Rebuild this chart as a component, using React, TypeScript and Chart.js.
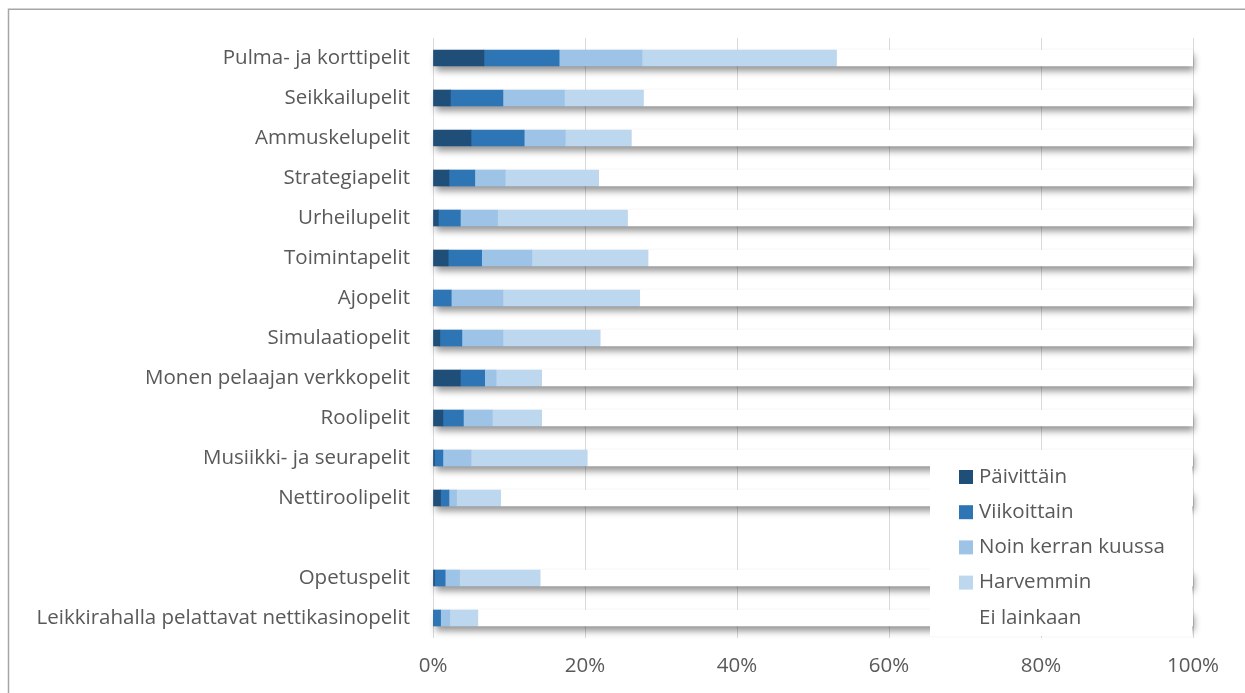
import React, { useEffect, useRef } from "react";
import { Chart, registerables } from "chart.js";

Chart.register(...registerables);

const categories = [
  "Pulma- ja korttipelit",
  "Seikkailupelit",
  "Ammuskelupelit",
  "Strategiapelit",
  "Urheilupelit",
  "Toimintapelit",
  "Ajopelit",
  "Simulaatiopelit",
  "Monen pelaajan verkkopelit",
  "Roolipelit",
  "Musiikki- ja seurapelit",
  "Nettiroolipelit",
  "",
  "Opetuspelit",
  "Leikkirahalla pelattavat nettikasinopelit",
];

const paivittain = [6.7, 2.3, 5.0, 2.1, 0.7, 2.0, 0.0, 0.9, 3.6, 1.3, 0.2, 1.0, null, 0.2, 0.0];
const viikoittain = [9.9, 6.9, 7.0, 3.4, 2.9, 4.4, 2.4, 2.9, 3.2, 2.7, 1.1, 1.1, null, 1.4, 1.0];
const kerranKuussa = [10.9, 8.1, 5.4, 4.0, 4.9, 6.6, 6.8, 5.4, 1.5, 3.8, 3.7, 1.0, null, 1.9, 1.2];
const harvemmin = [25.6, 10.4, 8.7, 12.3, 17.1, 15.3, 18.0, 12.8, 6.0, 6.5, 15.3, 5.8, null, 10.6, 3.7];
const eiLainkaan = [46.9, 72.3, 73.9, 78.2, 74.4, 71.7, 72.8, 78.0, 85.7, 85.7, 79.7, 91.1, null, 85.9, 94.1];

const seriesLabels = ["Päivittäin", "Viikoittain", "Noin kerran kuussa", "Harvemmin", "Ei lainkaan"];
const seriesValues = [paivittain, viikoittain, kerranKuussa, harvemmin, eiLainkaan];
const seriesColors = ["#1F4E79", "#2E75B6", "#9DC3E6", "#BDD7EE", "#FFFFFF"];

const xTickValues = [0, 20, 40, 60, 80, 100];

const FONT_FAMILY = "'Open Sans', Lato, sans-serif";
const FONT_SIZE = 20.5;
const TEXT_COLOR = "#595959";

const shadowPlugin = {
  id: "barShadow",
  beforeDatasetsDraw(chart: any) {
    const ctx = chart.ctx;
    const n = chart.data.datasets.length;
    const lastMeta = chart.getDatasetMeta(n - 1);
    const x0 = chart.scales.x.getPixelForValue(0);
    ctx.save();
    ctx.shadowColor = "rgba(0,0,0,0.42)";
    ctx.shadowBlur = 7;
    ctx.shadowOffsetX = 1;
    ctx.shadowOffsetY = 5;
    ctx.fillStyle = "#FFFFFF";
    lastMeta.data.forEach((el: any, i: number) => {
      if (seriesValues[n - 1][i] == null) return;
      const p = el.getProps(["x", "y", "height"], true);
      ctx.fillRect(x0 + 2, p.y - p.height / 2, p.x - x0 - 2, p.height);
    });
    ctx.restore();
  },
};

const frameLegendPlugin = {
  id: "frameLegend",
  beforeDraw(chart: any) {
    const ctx = chart.ctx;
    ctx.save();
    ctx.fillStyle = "#FFFFFF";
    ctx.fillRect(0, 0, chart.width, chart.height);
    ctx.restore();
  },
  afterDraw(chart: any) {
    const ctx = chart.ctx;
    const area = chart.chartArea;
    ctx.save();
    // frame
    ctx.strokeStyle = "#A6A6A6";
    ctx.lineWidth = 1.5;
    ctx.beginPath();
    ctx.moveTo(8.5, chart.height);
    ctx.lineTo(8.5, 9.2);
    ctx.lineTo(chart.width, 9.2);
    ctx.stroke();

    // legend box
    const boxRight = area.right - 1;
    const boxLeft = boxRight - 262;
    const boxBottom = area.bottom - 2;
    const boxTop = boxBottom - 183;
    ctx.fillStyle = "#FFFFFF";
    ctx.fillRect(boxLeft, boxTop, boxRight - boxLeft, boxBottom - boxTop);

    ctx.font = `${FONT_SIZE}px ${FONT_FAMILY}`;
    ctx.textBaseline = "middle";
    ctx.textAlign = "left";
    seriesLabels.forEach((label, i) => {
      const cy = boxTop + 24 + i * 35.2;
      ctx.fillStyle = seriesColors[i];
      ctx.fillRect(boxLeft + 29, cy - 7, 14, 14);
      ctx.fillStyle = TEXT_COLOR;
      ctx.fillText(label, boxLeft + 49, cy);
    });
    ctx.restore();
  },
};

export default function App() {
  const canvasRef = useRef<HTMLCanvasElement | null>(null);

  useEffect(() => {
    if (!canvasRef.current) return;
    const chart = new Chart(canvasRef.current, {
      type: "bar",
      data: {
        labels: categories,
        datasets: seriesLabels.map((label, i) => ({
          label,
          data: seriesValues[i],
          backgroundColor: seriesColors[i],
          borderWidth: 0,
          barThickness: 16,
        })),
      },
      options: {
        indexAxis: "y",
        responsive: false,
        animation: false,
        layout: { padding: { top: 38, right: 52, bottom: 0, left: 0 } },
        plugins: {
          legend: { display: false },
          tooltip: { enabled: false },
        },
        scales: {
          x: {
            stacked: true,
            min: 0,
            max: 100,
            afterBuildTicks: (scale: any) => {
              scale.ticks = xTickValues.map((v) => ({ value: v }));
            },
            afterFit: (scale: any) => {
              scale.height = 55;
            },
            grid: { color: "#D9D9D9", lineWidth: 1, drawTicks: false },
            border: { display: false },
            ticks: {
              padding: 16,
              color: TEXT_COLOR,
              font: { family: FONT_FAMILY, size: FONT_SIZE },
              callback: (v: any) => `${v}%`,
            },
          },
          y: {
            stacked: true,
            afterFit: (scale: any) => {
              scale.width = 433;
            },
            grid: { display: false, drawTicks: false },
            border: { display: false },
            ticks: {
              padding: 23,
              color: TEXT_COLOR,
              font: { family: FONT_FAMILY, size: FONT_SIZE },
              autoSkip: false,
            },
          },
        },
      },
      plugins: [shadowPlugin, frameLegendPlugin],
    });
    return () => chart.destroy();
  }, []);

  return (
    <div style={{ position: "absolute", left: 0, top: 0, width: 1245, height: 693 }}>
      <canvas ref={canvasRef} width={1245} height={693} style={{ display: "block" }} />
    </div>
  );
}
